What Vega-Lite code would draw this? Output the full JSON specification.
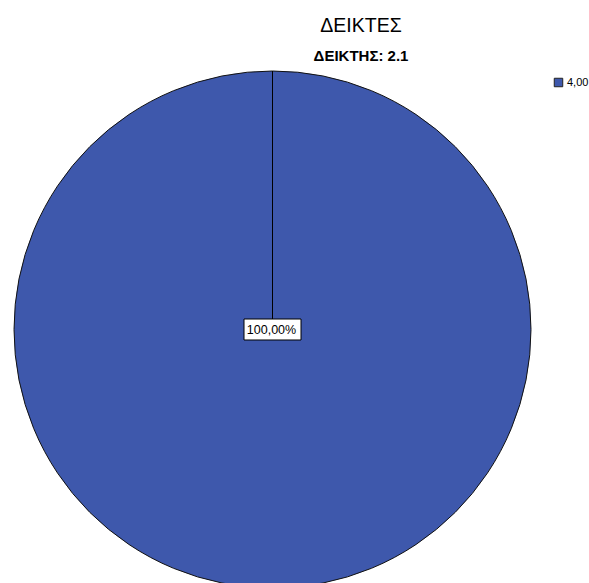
{
  "$schema": "https://vega.github.io/schema/vega-lite/v6.json",
  "autosize": {"type": "none"},
  "padding": {"left": 0, "top": 71, "right": 44, "bottom": 0},
  "width": 545,
  "height": 517,
  "background": "white",
  "title": {
    "text": "ΔΕΙΚΤΕΣ",
    "subtitle": "ΔΕΙΚΤΗΣ: 2.1",
    "anchor": "middle",
    "frame": "group",
    "dx": 88.5,
    "offset": 4.5,
    "font": "Liberation Sans",
    "fontSize": 19.5,
    "fontWeight": "normal",
    "color": "#000000",
    "subtitleFont": "Liberation Sans",
    "subtitleFontSize": 15,
    "subtitleFontWeight": "bold",
    "subtitleColor": "#000000",
    "subtitlePadding": 12
  },
  "data": {"values": [{"category": "4,00", "value": 100, "label": "100,00%", "cx": 0, "cy": 0, "top": 1}]},
  "config": {"view": {"stroke": null}},
  "layer": [
    {
      "mark": {"type": "arc", "stroke": "#111111", "strokeWidth": 1, "radius": 258.5},
      "encoding": {
        "theta": {"field": "value", "type": "quantitative", "stack": true},
        "color": {
          "field": "category",
          "type": "nominal",
          "scale": {"range": ["#3E58AC"]},
          "legend": {
            "title": null,
            "orient": "none",
            "legendX": 553,
            "legendY": 6,
            "symbolType": "square",
            "symbolSize": 72,
            "symbolStrokeColor": "#222222",
            "symbolStrokeWidth": 1,
            "symbolOpacity": 1,
            "labelFont": "Liberation Sans",
            "labelFontSize": 11,
            "labelColor": "#000000",
            "labelOffset": 3,
            "padding": 0
          }
        }
      }
    },
    {
      "mark": {"type": "rule", "color": "#000000", "strokeWidth": 1},
      "encoding": {
        "x": {"field": "cx", "type": "quantitative", "scale": {"domain": [-1.0542, 1.0542], "nice": false, "zero": false}, "axis": null},
        "y": {"field": "cy", "type": "quantitative", "scale": {"domain": [-1, 1], "nice": false, "zero": false}, "axis": null},
        "y2": {"field": "top"}
      }
    },
    {
      "mark": {"type": "point", "shape": "M-1,-0.368L1,-0.368L1,0.368L-1,0.368Z", "size": 3249, "filled": true, "fill": "#ffffff", "stroke": "#000000", "strokeWidth": 1, "opacity": 1},
      "encoding": {
        "x": {"field": "cx", "type": "quantitative", "axis": null},
        "y": {"field": "cy", "type": "quantitative", "axis": null}
      }
    },
    {
      "mark": {"type": "text", "font": "Liberation Sans", "fontSize": 12.5, "color": "#000000", "align": "center", "baseline": "middle", "dx": -1},
      "encoding": {
        "x": {"field": "cx", "type": "quantitative", "axis": null},
        "y": {"field": "cy", "type": "quantitative", "axis": null},
        "text": {"field": "label"}
      }
    }
  ]
}
